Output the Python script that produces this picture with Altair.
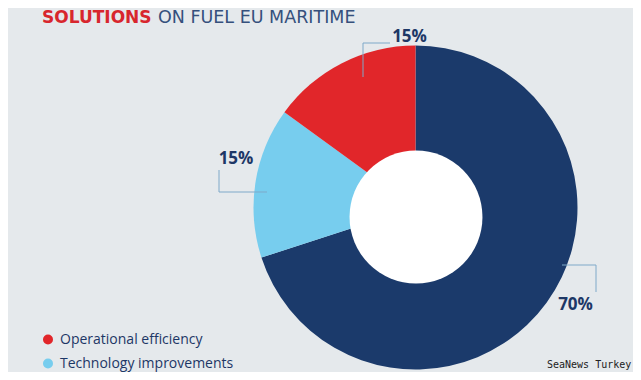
import math
import altair as alt
import pandas as pd

# ---- data ----
categories = ["Other", "Technology improvements", "Operational efficiency"]
values = [70, 15, 15]
colors = ["#1b3a6b", "#77cdee", "#e1262a"]
legend_items = ["Operational efficiency", "Technology improvements"]
title_bold = "SOLUTIONS"
title_rest = "ON FUEL EU MARITIME"
watermark = "SeaNews Turkey"

# ---- layout (pixels inside the chart) ----
W, H = 625, 364
BG = "#e5e9ec"
NAVY = "#1d3766"
FONT = "Open Sans"
TITLE_FONT = "DejaVu Sans"
CX, CY, R_OUT = 407.5, 199.5, 162
HOLE_X, HOLE_Y, R_IN = 408, 209, 75
label_pos = {  # label centre per category
    "Other": (567.5, 297),
    "Technology improvements": (228, 150.5),
    "Operational efficiency": (401.5, 29),
}
leader_segments = [
    (355, 35, 382, 35), (355, 35, 355, 69),
    (211, 162, 211, 184), (211, 184, 259, 184),
    (554, 257, 588, 257), (588, 257, 588, 284),
]

df = pd.DataFrame({"category": categories, "value": values, "order": list(range(len(values)))})
df["label"] = [f"{v}%" for v in values]
df["lx"] = [label_pos[c][0] for c in categories]
df["ly"] = [label_pos[c][1] for c in categories]

color_scale = alt.Scale(domain=categories, range=colors)

pie = alt.Chart(df).mark_arc(outerRadius=R_OUT, innerRadius=0, stroke=None).encode(
    theta=alt.Theta("value:Q", stack=True),
    order=alt.Order("order:Q"),
    color=alt.Color(
        "category:N", scale=color_scale,
        legend=alt.Legend(
            orient="none", legendX=33, legendY=324.5, values=legend_items, title=None,
            symbolType="circle", symbolSize=100, symbolStrokeWidth=0,
            labelFont=FONT, labelFontSize=14, labelColor=NAVY, labelLimit=400,
            rowPadding=10, labelOffset=5,
        ),
    ),
    x=alt.value(CX), y=alt.value(CY),
)

hole = alt.Chart(pd.DataFrame({"k": [0]})).mark_circle(
    size=math.pi * R_IN ** 2, color="white", opacity=1
).encode(x=alt.value(HOLE_X), y=alt.value(HOLE_Y))

seg_df = pd.DataFrame(leader_segments, columns=["x", "y", "x2", "y2"])
leaders = alt.Chart(seg_df).mark_rule(color="#7ea9c9", strokeWidth=1).encode(
    x=alt.X("x:Q", scale=None), y=alt.Y("y:Q", scale=None),
    x2="x2:Q", y2="y2:Q",
)

labels = alt.Chart(df).mark_text(
    font=FONT, fontSize=17, fontWeight="bold", color=NAVY, align="center", baseline="middle"
).encode(
    x=alt.X("lx:Q", scale=None), y=alt.Y("ly:Q", scale=None), text="label:N"
)

title1 = alt.Chart(pd.DataFrame({"t": [title_bold]})).mark_text(
    font=TITLE_FONT, fontSize=17, fontWeight="bold", color="#d8262d", align="left", baseline="alphabetic"
).encode(x=alt.value(34), y=alt.value(14.5), text="t:N")
title2 = alt.Chart(pd.DataFrame({"t": [title_rest]})).mark_text(
    font=TITLE_FONT, fontSize=17.5, fontWeight="normal", color="#35507c", align="left", baseline="alphabetic"
).encode(x=alt.value(150), y=alt.value(14.5), text="t:N")

wm = alt.Chart(pd.DataFrame({"t": [watermark]})).mark_text(
    font="DejaVu Sans Mono", fontSize=10, color="#222222", align="left", baseline="middle"
).encode(x=alt.value(539), y=alt.value(357), text="t:N")

chart = alt.layer(pie, hole, leaders, labels, title1, title2, wm).properties(
    width=W, height=H, padding=0, background=BG,
    autosize=alt.AutoSizeParams(type="fit", contains="padding"),
).configure_view(stroke=None)

chart.save("out.html", embed_options={"renderer": "svg", "actions": False})
